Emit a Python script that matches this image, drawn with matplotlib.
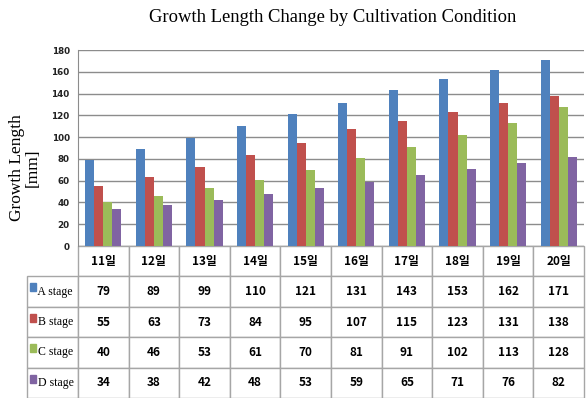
import matplotlib
matplotlib.use("Agg")
import matplotlib.pyplot as plt
from matplotlib.patches import Rectangle
from matplotlib.table import Table
import numpy as np

categories = ["11일", "12일", "13일", "14일", "15일", "16일", "17일", "18일", "19일", "20일"]
series_names = ["A stage", "B stage", "C stage", "D stage"]
a_stage = [79, 89, 99, 110, 121, 131, 143, 153, 162, 171]
b_stage = [55, 63, 73, 84, 95, 107, 115, 123, 131, 138]
c_stage = [40, 46, 53, 61, 70, 81, 91, 102, 113, 128]
d_stage = [34, 38, 42, 48, 53, 59, 65, 71, 76, 82]
colors = ["#4F81BD", "#C0504D", "#9BBB59", "#8064A2"]
yticks = [0, 20, 40, 60, 80, 100, 120, 140, 160, 180]

series = [a_stage, b_stage, c_stage, d_stage]

W, H = 586, 398
fig = plt.figure(figsize=(W / 100, H / 100), dpi=100)
fig.patch.set_facecolor("white")

ax_l, ax_r, ax_t, ax_b = 78, 584, 50, 246
ax = fig.add_axes([ax_l / W, 1 - ax_b / H, (ax_r - ax_l) / W, (ax_b - ax_t) / H])

x = np.arange(len(categories))
bw = 0.178
for i, (vals, col) in enumerate(zip(series, colors)):
    ax.bar(x + (i - 1.5) * bw, vals, width=bw, color=col, zorder=3, linewidth=0)

ax.set_xlim(-0.5, len(categories) - 0.5)
ax.set_ylim(0, 180)
ax.set_yticks(yticks)
ax.set_xticks([])
ax.yaxis.grid(True, color="#8C8C8C", linewidth=1.0, zorder=0)
for s in ["top", "right", "bottom"]:
    ax.spines[s].set_visible(False)
ax.spines["left"].set_color("#8C8C8C")
ax.tick_params(axis="y", length=0, pad=6, labelsize=6.3, labelcolor="#222222")
for lab in ax.get_yticklabels():
    lab.set_fontfamily(["Liberation Sans Narrow", "DejaVu Sans"])
    lab.set_fontweight("bold")

# table (bbox covers the data cells; row labels sit to the left)
tab_b = 398
axh = ax_b - ax_t
bbox = [0, -(tab_b - ax_b) / axh, 1, (tab_b - ax_b) / axh]
tbl = Table(ax, bbox=bbox)
tbl.auto_set_font_size(False)
cw, ch = 0.1, 0.1
num_font = ["Liberation Sans Narrow", "Noto Sans CJK KR", "DejaVu Sans"]
for j, cat in enumerate(categories):
    cell = tbl.add_cell(0, j, cw, ch, text=cat, loc="center")
    cell.get_text().set_fontfamily(num_font)
    cell.get_text().set_fontweight("bold")
for i, (name, vals) in enumerate(zip(series_names, series)):
    cell = tbl.add_cell(i + 1, -1, cw, ch, text="  " + name, loc="left")
    cell.PAD = 0.1
    cell.get_text().set_fontfamily(["Liberation Serif", "DejaVu Serif"])
    for j, v in enumerate(vals):
        c = tbl.add_cell(i + 1, j, cw, ch, text=str(v), loc="center")
        c.get_text().set_fontfamily(num_font)
        c.get_text().set_fontweight("bold")
for (r, c), cell in tbl.get_celld().items():
    cell.set_edgecolor("#A6A6A6")
    cell.set_linewidth(1.0)
    cell.get_text().set_fontsize(8.5)
ax.add_table(tbl)

# legend keys in row labels
row_h = (tab_b - ax_b) / 5
for i, col in enumerate(colors):
    top = ax_b + row_h * (i + 1) + 7
    fig.patches.append(Rectangle((30 / W, 1 - (top + 8) / H), 6 / W, 8 / H,
                                 transform=fig.transFigure, color=col, zorder=5))

fig.text(333 / W, 1 - 18 / H, "Growth Length Change by Cultivation Condition",
         ha="center", va="center", fontsize=13.4, family=["Liberation Serif", "DejaVu Serif"])
fig.text(25 / W, 1 - 168 / H, "Growth Length\n[mm]", rotation=90, ha="center", va="center",
         multialignment="center", fontsize=12.5, linespacing=0.95,
         family=["Liberation Serif", "DejaVu Serif"])

fig.savefig("out.png", dpi=100, facecolor="white")
